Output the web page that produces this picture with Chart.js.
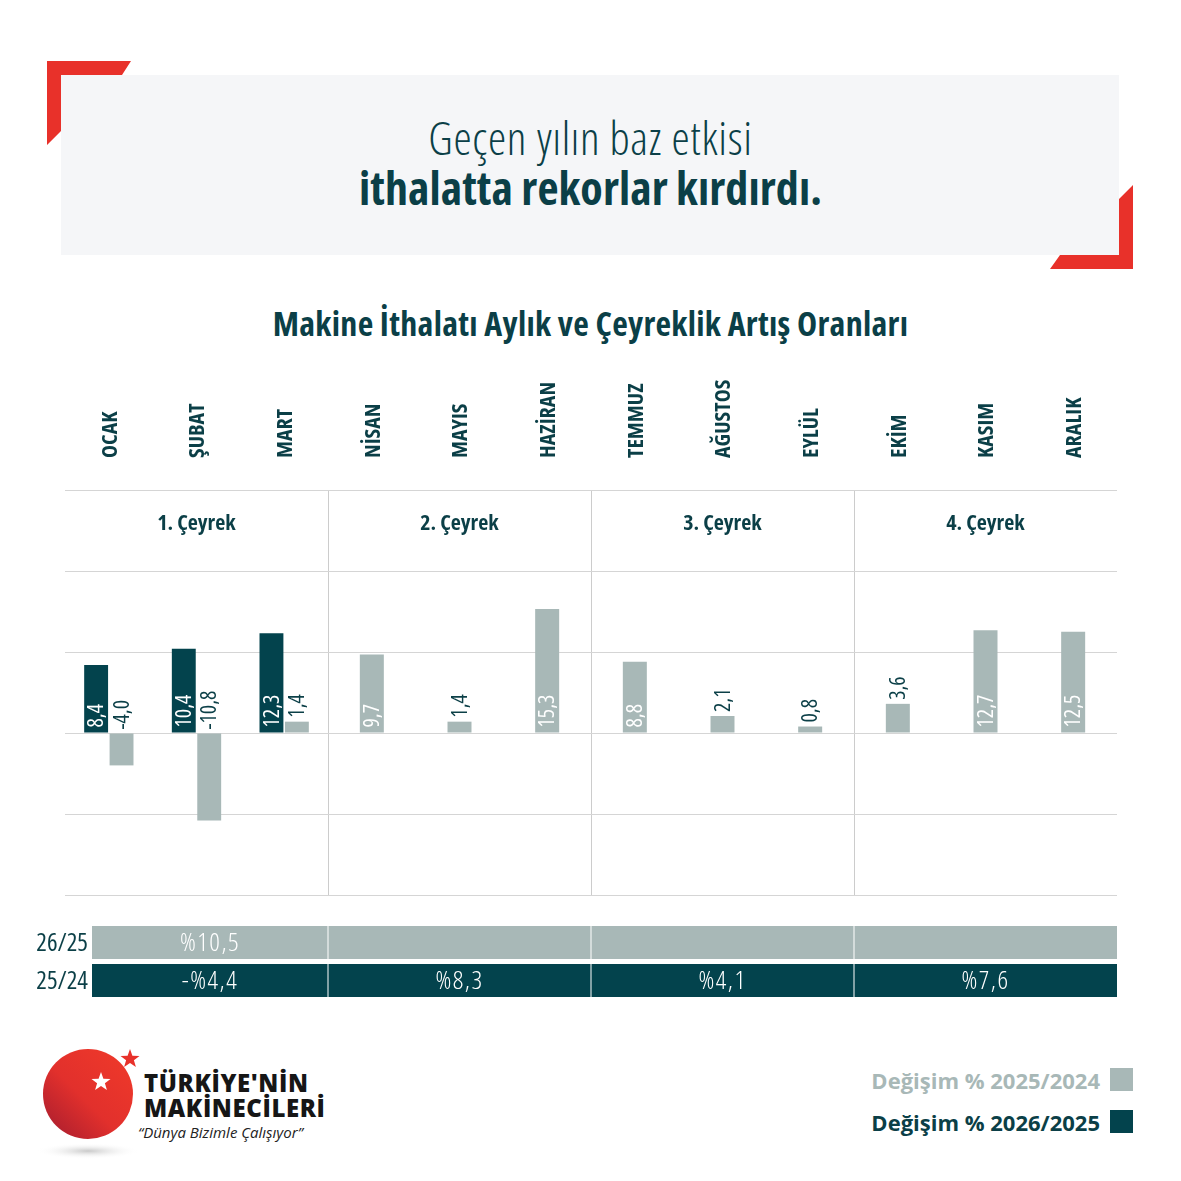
<!DOCTYPE html>
<html lang="tr">
<head>
<meta charset="utf-8">
<script src="https://cdn.jsdelivr.net/npm/chart.js@4.4.1/dist/chart.umd.min.js"></script>
<style>
  html, body { margin: 0; padding: 0; background: #fff; }
  body { width: 1181px; height: 1181px; position: relative; overflow: hidden; font-family: "Open Sans", "Noto Sans", sans-serif; }
  .box { position: absolute; left: 61px; top: 75px; width: 1058px; height: 180px; background: #f5f6f8; }
  .head { position: absolute; left: 0; width: 1181px; text-align: center; color: #0b3f47; white-space: nowrap; font-stretch: condensed; }
  .h1 { top: 107px; font-size: 46px; line-height: 60px; font-weight: 300; letter-spacing: 0.7px; }
  .h2 { top: 157px; font-size: 46px; line-height: 60px; font-weight: 700; letter-spacing: 0.1px; }
  .title { top: 301px; font-size: 34px; line-height: 44px; font-weight: 700; letter-spacing: 0.3px; }
  #wrap { position: absolute; left: 0; top: 360px; width: 1181px; height: 660px; }
  .brand { position: absolute; left: 144px; color: #161616; font-weight: 800; font-size: 24px; line-height: 24px; letter-spacing: 0.6px; }
  .tag { position: absolute; left: 138px; top: 1122px; font-size: 15px; line-height: 20px; font-style: italic; color: #222; }
  .leg { position: absolute; right: 81px; font-size: 22px; line-height: 28px; font-weight: 700; white-space: nowrap; }
  .sq { position: absolute; left: 1110px; width: 23px; height: 23px; }
</style>
</head>
<body>
<svg width="1181" height="1181" style="position:absolute;left:0;top:0">
  <defs>
    <linearGradient id="ball" x1="1" y1="0" x2="0" y2="1">
      <stop offset="0" stop-color="#f03a2a"/>
      <stop offset="0.55" stop-color="#e2302c"/>
      <stop offset="1" stop-color="#a21b2f"/>
    </linearGradient>
    <radialGradient id="shade">
      <stop offset="0" stop-color="#c9c9c9"/>
      <stop offset="1" stop-color="#ffffff" stop-opacity="0"/>
    </radialGradient>
  </defs>
  <polygon points="47,61 131,61 122,75 61,75 61,131 47,145" fill="#e8312a"/>
  <polygon points="1133,185 1133,269 1050,269 1060,255 1119,255 1119,199" fill="#e8312a"/>
  <ellipse cx="88" cy="1151" rx="52" ry="8" fill="url(#shade)"/>
  <circle cx="88" cy="1094" r="45" fill="url(#ball)"/>
  <polygon fill="#fff" points="101,1072 103.4,1078.7 110.5,1078.9 104.9,1083.3 106.9,1090.1 101,1086.1 95.1,1090.1 97.1,1083.3 91.5,1078.9 98.6,1078.7"/>
  <polygon fill="#e8312a" points="130,1049 132.4,1055.7 139.5,1055.9 133.9,1060.3 135.9,1067.1 130,1063.1 124.1,1067.1 126.1,1060.3 120.5,1055.9 127.6,1055.7"/>
</svg>
<div class="box"></div>
<div class="head h1">Geçen yılın baz etkisi</div>
<div class="head h2">ithalatta rekorlar kırdırdı.</div>
<div class="head title">Makine İthalatı Aylık ve Çeyreklik Artış Oranları</div>
<div id="wrap"><canvas id="chart" width="1181" height="660"></canvas></div>
<div class="brand" style="top:1071px">TÜRKİYE'NİN</div>
<div class="brand" style="top:1096px">MAKİNECİLERİ</div>
<div class="tag">“Dünya Bizimle Çalışıyor”</div>
<div class="leg" style="top:1066px;color:#a8b8b7">Değişim % 2025/2024</div>
<div class="sq" style="top:1068px;background:#a8b8b7"></div>
<div class="leg" style="top:1108px;color:#0b3f47">Değişim % 2026/2025</div>
<div class="sq" style="top:1110px;background:#03434d"></div>
<script>
const months = ['OCAK', 'ŞUBAT', 'MART', 'NİSAN', 'MAYIS', 'HAZİRAN', 'TEMMUZ', 'AĞUSTOS', 'EYLÜL', 'EKİM', 'KASIM', 'ARALIK'];
const quarters = ['1. Çeyrek', '2. Çeyrek', '3. Çeyrek', '4. Çeyrek'];
const change2026 = [8.4, 10.4, 12.3, null, null, null, null, null, null, null, null, null];
const change2025 = [-4.0, -10.8, 1.4, 9.7, 1.4, 15.3, 8.8, 2.1, 0.8, 3.6, 12.7, 12.5];
const rowLabels = ['26/25', '25/24'];
const quarter2625 = [10.5, null, null, null];
const quarter2524 = [-4.4, 8.3, 4.1, 7.6];

const DARK = '#03434d';
const LIGHT = '#a8b8b7';
const TEXT = '#0b3f47';
const FONT = '"Open Sans", "Noto Sans", sans-serif';

const fmt = v => v.toFixed(1).replace('.', ',');
const fmtPct = v => (v < 0 ? '-' : '') + '%' + fmt(Math.abs(v));

// rotated value labels: inside the bar for tall bars, above it for short ones
const valueLabels = {
  id: 'valueLabels',
  afterDatasetsDraw(chart) {
    const ctx = chart.ctx;
    ctx.save();
    ctx.font = '400 condensed 22px ' + FONT;
    ctx.textAlign = 'left';
    ctx.textBaseline = 'middle';
    chart.data.datasets.forEach((ds, di) => {
      chart.getDatasetMeta(di).data.forEach((bar, i) => {
        const v = ds.data[i];
        if (v === null || v === undefined) return;
        let y, color;
        if (v >= 5) { y = bar.base - 5; color = '#fff'; }
        else if (v < 0) { y = bar.base - 4; color = TEXT; }
        else { y = bar.y - 4; color = TEXT; }
        ctx.save();
        ctx.translate(bar.x, y);
        ctx.rotate(-Math.PI / 2);
        ctx.fillStyle = color;
        ctx.fillText(fmt(v), 0, 1);
        ctx.restore();
      });
    });
    ctx.restore();
  }
};

// quarter names in the top band and quarterly table below the plot
const quarterParts = {
  id: 'quarterParts',
  afterDraw(chart) {
    const ctx = chart.ctx;
    const xs = chart.scales.x;
    const ys = chart.scales.y;
    const area = chart.chartArea;
    const step = (xs.right - xs.left) / months.length;
    ctx.save();
    ctx.textAlign = 'center';
    ctx.textBaseline = 'middle';
    ctx.fillStyle = TEXT;
    ctx.font = '700 condensed 22px ' + FONT;
    const bandY = (ys.getPixelForValue(30) + ys.getPixelForValue(20)) / 2 - 7;
    quarters.forEach((q, i) => {
      const cx = xs.getPixelForValue(i * 3 + 1);
      ctx.fillText(q, cx, bandY);
    });

    const rows = [
      { label: rowLabels[0], values: quarter2625, fill: LIGHT, top: area.bottom + 31 },
      { label: rowLabels[1], values: quarter2524, fill: DARK, top: area.bottom + 69 }
    ];
    const h = 33;
    rows.forEach(r => {
      quarters.forEach((q, i) => {
        let x0 = xs.getPixelForValue(i * 3) - step / 2;
        const x1 = x0 + step * 3;
        if (i === 0) x0 = area.left + 27;
        ctx.fillStyle = r.fill;
        ctx.fillRect(x0, r.top, x1 - x0, h);
        if (i > 0) {
          ctx.fillStyle = '#fff';
          ctx.fillRect(x0 - 0.5, r.top, 1, h);
        }
        const v = r.values[i];
        if (v !== null) {
          ctx.fillStyle = '#fff';
          ctx.font = '300 condensed 26px ' + FONT;
          ctx.letterSpacing = '1.5px';
          ctx.fillText(fmtPct(v), (x0 + x1) / 2, r.top + h / 2 + 1);
          ctx.letterSpacing = '0px';
        }
      });
      ctx.fillStyle = TEXT;
      ctx.font = '400 condensed 25px ' + FONT;
      ctx.textAlign = 'right';
      ctx.fillText(r.label, area.left + 23, r.top + h / 2 + 1);
      ctx.textAlign = 'center';
    });
    ctx.restore();
  }
};

new Chart(document.getElementById('chart'), {
  type: 'bar',
  data: {
    labels: months,
    datasets: [
      { label: 'Değişim % 2026/2025', data: change2026, backgroundColor: DARK },
      { label: 'Değişim % 2025/2024', data: change2025, backgroundColor: LIGHT }
    ]
  },
  options: {
    responsive: false,
    animation: false,
    devicePixelRatio: 1,
    skipNull: true,
    categoryPercentage: 0.58,
    barPercentage: 0.94,
    maxBarThickness: 24,
    layout: { padding: { left: 65, right: 64, top: 0, bottom: 125 } },
    plugins: { legend: { display: false }, tooltip: { enabled: false } },
    scales: {
      x: {
        position: 'top',
        grid: {
          offset: true,
          drawTicks: false,
          color: c => (c.index % 3 === 0 && c.index > 0 && c.index < months.length) ? '#cccccc' : 'rgba(0,0,0,0)'
        },
        border: { display: false },
        ticks: {
          autoSkip: false,
          minRotation: 90,
          maxRotation: 90,
          padding: 32,
          labelOffset: 28,
          color: TEXT,
          font: { family: FONT, size: 22, weight: '700 condensed' }
        },
        afterFit: s => { s.height = 130; }
      },
      y: {
        min: -20,
        max: 30,
        ticks: { display: false, stepSize: 10 },
        grid: { color: '#d5d5d5', drawTicks: false },
        border: { display: false },
        afterFit: s => { s.width = 0; }
      }
    }
  },
  plugins: [valueLabels, quarterParts]
});
</script>
</body>
</html>
